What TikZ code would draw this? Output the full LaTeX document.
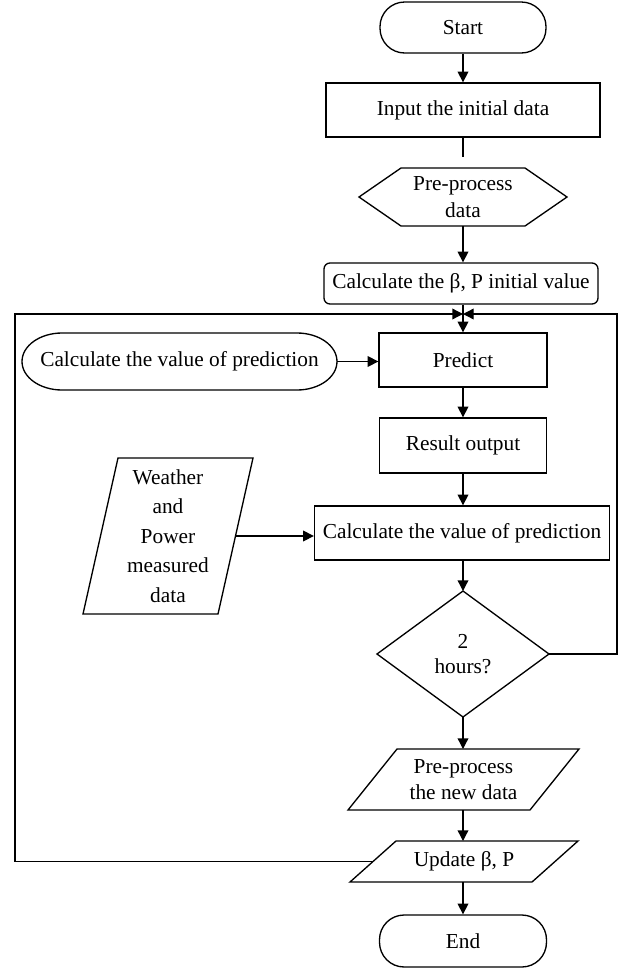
\documentclass[tikz,border=0pt]{standalone}
\usepackage{fontspec}
\setmainfont{Liberation Serif}
\usetikzlibrary{arrows.meta,calc}
\begin{document}
\begin{tikzpicture}[x=0.75pt,y=-0.75pt,
  line width=1pt,
  txt/.style={font=\fontsize{16}{20}\selectfont, align=center, inner sep=0pt},
  shp/.style={txt, outer sep=0pt},
  box/.style={txt, draw, rectangle},
  term/.style={box, rounded corners=18.5pt},
  arr/.style={-{Triangle[length=8pt,width=8pt]}},
]
\useasboundingbox (0,0) rectangle (631,968);

% main column
\node[term, minimum width=124.5pt, minimum height=38.25pt] (start) at (463,27.5) {Start};
\node[box, minimum width=205.5pt, minimum height=40.5pt] (input) at (463,110) {Input the initial data};
\coordinate (gap) at (463,157);
\node[shp, minimum width=156pt, minimum height=43.5pt] (hex) at (463,197) {Pre-process\\data};
\draw (hex.west) -- ($(hex.north west)+(42,0)$) -- ($(hex.north east)+(-42,0)$) -- (hex.east)
      -- ($(hex.south east)+(-42,0)$) -- ($(hex.south west)+(42,0)$) -- cycle;
\node[box, rounded corners=4.5pt, minimum width=205.5pt, minimum height=30.75pt] (init) at (461,283.5) {Calculate the β, P initial value};
\coordinate (join) at (463,314);

\node[shp, minimum width=236.25pt, minimum height=42.75pt] (ell) at (179.5,361.5) {Calculate the value of prediction};
\draw ($(ell.north west)+(40,0)$) -- ($(ell.north east)+(-40,0)$)
      arc[start angle=90, end angle=-90, x radius=30pt, y radius=21.375pt]
      -- ($(ell.south west)+(40,0)$)
      arc[start angle=270, end angle=90, x radius=30pt, y radius=21.375pt] -- cycle;

\node[box, minimum width=126pt, minimum height=40.5pt] (pred) at (463,360) {Predict};
\node[box, minimum width=125.25pt, minimum height=41.25pt] (res) at (463,445.5) {Result output};
\node[box, minimum width=221.25pt, minimum height=40.5pt] (calc) at (462,533) {Calculate the value of prediction};

\node[shp, font=\fontsize{16}{22.2}\selectfont, minimum width=127.5pt, minimum height=117pt] (wea) at (168,536) {Weather\\and\\Power\\measured\\data};
\draw ($(wea.north west)+(35,0)$) -- (wea.north east) -- ($(wea.south east)+(-35,0)$) -- (wea.south west) -- cycle;
\coordinate (weaE) at ($(wea.east)+(-17.5,0)$);

\node[shp, font=\fontsize{16}{19}\selectfont, minimum width=129pt, minimum height=94.5pt] (dia) at (463,654) {2\\hours?};
\draw (dia.north) -- (dia.east) -- (dia.south) -- (dia.west) -- cycle;
\coordinate (rtop) at (617,314);

\node[shp, minimum width=173.25pt, minimum height=45.75pt] (pp) at (463.5,779.5) {Pre-process\\the new data};
\draw ($(pp.north west)+(49,0)$) -- (pp.north east) -- ($(pp.south east)+(-49,0)$) -- (pp.south west) -- cycle;

\node[shp, minimum width=171pt, minimum height=30.75pt] (upd) at (464,861.5) {Update β, P};
\draw ($(upd.north west)+(46,0)$) -- (upd.north east) -- ($(upd.south east)+(-46,0)$) -- (upd.south west) -- cycle;
\coordinate (updW) at ($(upd.west)+(23,0)$);
\coordinate (ltop) at (15,314);

\node[term, minimum width=125.25pt, minimum height=39pt] (end) at (463,941) {End};

% connectors
\draw[arr] (start.south) -- (input.north);
\draw (input.south) -- (gap);
\draw[arr] (hex.south) -- (hex.south |- init.north);
\draw[arr] (pred.north |- init.south) -- (pred.north);
\draw[arr] (ell.east) -- (ell.east -| pred.west);
\draw[arr] (pred.south) -- (res.north);
\draw[arr] (res.south) -- (res.south |- calc.north);
\draw[arr] (weaE) -- (weaE -| calc.west);
\draw[arr] (dia.north |- calc.south) -- (dia.north);
\draw[arr] (dia.east) -| (rtop) -- (join);
\draw[arr] (dia.south) -- (dia.south |- pp.north);
\draw[arr] (dia.south |- pp.south) -- (dia.south |- upd.north);
\draw[arr] (updW) -| (ltop) -- (join);
\draw[arr] (end.north |- upd.south) -- (end.north);
\end{tikzpicture}
\end{document}
